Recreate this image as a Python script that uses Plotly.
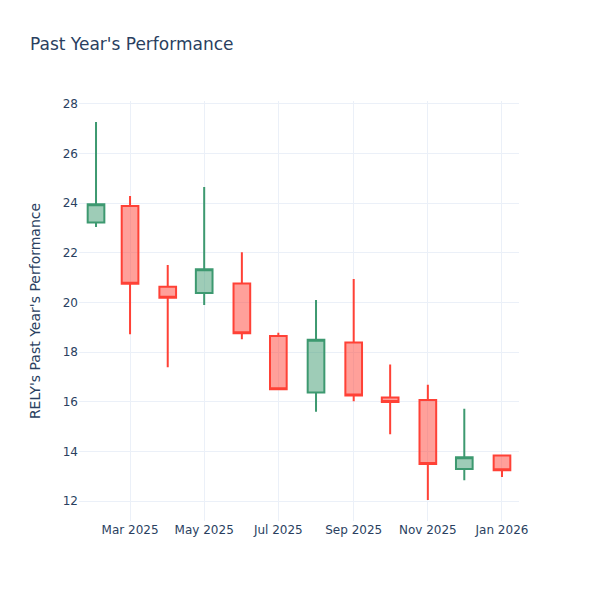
import plotly.graph_objects as go

dates = ["2025-02-01", "2025-03-01", "2025-04-01", "2025-05-01", "2025-06-01", "2025-07-01",
         "2025-08-01", "2025-09-01", "2025-10-01", "2025-11-01", "2025-12-01", "2026-01-01"]
open_ = [23.22, 23.89, 20.64, 20.38, 20.77, 18.65, 16.38, 18.39, 16.18, 16.08, 13.30, 13.84]
high = [27.27, 24.29, 21.51, 24.65, 22.03, 18.78, 20.10, 20.95, 17.51, 16.69, 15.72, 13.84]
low = [23.04, 18.72, 17.40, 19.90, 18.52, 16.48, 15.60, 16.03, 14.70, 12.05, 12.85, 12.98]
close = [23.96, 20.76, 20.19, 21.34, 18.76, 16.51, 18.50, 16.26, 16.00, 13.50, 13.77, 13.25]

fig = go.Figure(go.Candlestick(x=dates, open=open_, high=high, low=low, close=close))
fig.update_layout(
    template="plotly_white",
    font=dict(family="DejaVu Sans"),
    title=dict(text="Past Year's Performance", x=22 / 600, xanchor="left",
               y=1 - 36 / 600, yanchor="middle"),
    yaxis=dict(title=dict(text="RELY's Past Year's Performance", standoff=18)),
    xaxis_rangeslider_visible=False,
    width=600, height=600,
    margin=dict(l=71, r=89, t=93, b=87),
)
fig.write_html("out.html")
